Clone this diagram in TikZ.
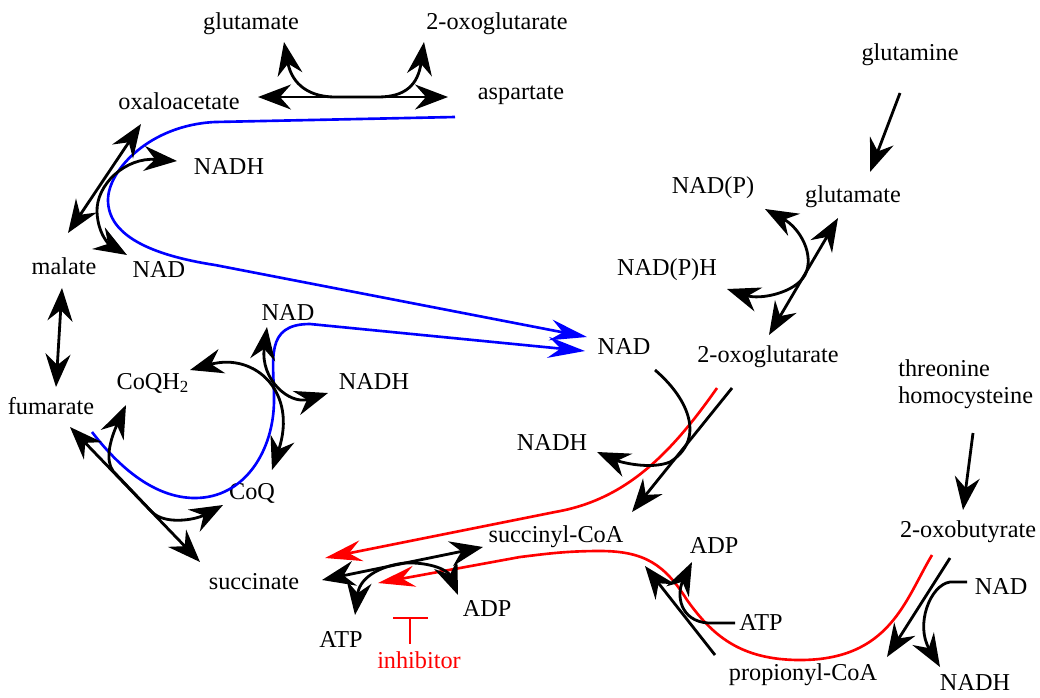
\documentclass[tikz,border=0pt]{standalone}
\usepackage{fontspec}
\setmainfont{Liberation Serif}
\usetikzlibrary{arrows.meta}
\tikzset{%
  myedge/.style={line width=1.6pt, >={Stealth[length=0.66cm, width=0.5cm, inset=0.22cm]}},
  myflux/.style={line width=1.5pt, ->, >={Stealth[length=0.74cm, width=0.42cm, inset=0.25cm]}},
  mynode/.style={inner sep=0pt, font=\fontsize{13.8}{16}\selectfont}
}

\begin{document}
\begin{tikzpicture}[x=0.02cm, y=-0.02cm]
  \useasboundingbox (0,0) rectangle (1040,697);
  % metabolites
  \node[mynode] (glu1) at (251,24) {glutamate};
  \node[mynode] (akg1) at (497,24) {2-oxoglutarate};
  \node[mynode] (oaa) at (179,101) {oxaloacetate};
  \node[mynode] (asp) at (521,95) {aspartate};
  \node[mynode] (nadh1) at (229,167) {NADH};
  \node[mynode] (mal) at (64,266) {malate};
  \node[mynode] (nad1) at (159,270) {NAD};
  \node[mynode] (nad2) at (288,313) {NAD};
  \node[mynode] (coqh) at (153,383) {CoQH\textsubscript{2}};
  \node[mynode] (nadh2) at (374,382) {NADH};
  \node[mynode] (fum) at (51,406) {fumarate};
  \node[mynode] (coq) at (252,493) {CoQ};
  \node[mynode] (suc) at (254,582) {succinate};
  \node[mynode] (atp1) at (341,639) {ATP};
  \node[mynode] (adp1) at (487,609) {ADP};
  \node[mynode, text=red] (inh) at (419,660) {inhibitor};
  \node[mynode] (gln) at (910,55) {glutamine};
  \node[mynode] (nadp) at (713,188) {NAD(P)};
  \node[mynode] (glu2) at (853,197) {glutamate};
  \node[mynode] (nadph) at (667,270) {NAD(P)H};
  \node[mynode] (nad3) at (624,347) {NAD};
  \node[mynode] (akg2) at (768,357) {2-oxoglutarate};
  \node[mynode, anchor=west] (thr) at (898,368) {threonine};
  \node[mynode, anchor=west] (hcy) at (898,398) {homocysteine};
  \node[mynode] (nadh3) at (552,443) {NADH};
  \node[mynode] (sucoa) at (556,537) {succinyl-CoA};
  \node[mynode] (adp2) at (714,546) {ADP};
  \node[mynode] (atp2) at (761,622) {ATP};
  \node[mynode] (prop) at (803,675) {propionyl-CoA};
  \node[mynode] (oxb) at (968,532) {2-oxobutyrate};
  \node[mynode] (nad4) at (1001,587) {NAD};
  \node[mynode] (nadh4) at (975,683) {NADH};
  % arrow ends
  \coordinate (t1) at (258,97);  \coordinate (t2) at (448,97);
  \coordinate (t3) at (284,42);  \coordinate (t4) at (424,42);
  \coordinate (m1) at (141,124); \coordinate (m2) at (68,233);
  \coordinate (m3) at (177,161); \coordinate (m4) at (127,255);
  \coordinate (f1) at (62,288);  \coordinate (f2) at (56,387);
  \coordinate (s1) at (70,427);  \coordinate (s2) at (200,562);
  \coordinate (s3) at (126,405); \coordinate (s4) at (223,505);
  \coordinate (c1) at (267,327); \coordinate (c2) at (328,393);
  \coordinate (c3) at (190,370); \coordinate (c4) at (272,470);
  \coordinate (g1) at (900,93);  \coordinate (g2) at (870,172);
  \coordinate (g3) at (838,218); \coordinate (g4) at (769,335);
  \coordinate (g5) at (765,209); \coordinate (g6) at (727,289);
  \coordinate (k1) at (732,388); \coordinate (k2) at (632,512);
  \coordinate (k3) at (655,370); \coordinate (k4) at (597,452);
  \coordinate (a1) at (322,580); \coordinate (a2) at (483,547);
  \coordinate (a3) at (355,615); \coordinate (a4) at (458,595);
  \coordinate (p1) at (715,655); \coordinate (p2) at (645,566);
  \coordinate (p3) at (735,623); \coordinate (p4) at (692,562);
  \coordinate (o1) at (950,558); \coordinate (o2) at (887,657);
  \coordinate (o3) at (967,582); \coordinate (o4) at (940,667);
  \coordinate (h1) at (973,433); \coordinate (h2) at (963,510);
  \coordinate (B1) at (455,117); \coordinate (B2) at (587,337);
  \coordinate (B3) at (92,432);  \coordinate (B4) at (585,351);
  \coordinate (R1) at (717,388); \coordinate (R2) at (325,558);
  \coordinate (R3) at (932,555); \coordinate (R4) at (378,583);
  \coordinate (i1) at (393,618); \coordinate (i2) at (428,618);
  \coordinate (i3) at (410,618); \coordinate (i4) at (410,644);
  % fluxes
  \draw[myflux, blue] (B1) -- (215,122) .. controls (150,125) and (108,170) .. (108,200)
    .. controls (108,235) and (150,255) .. (215,265) -- (B2);
  \draw[myflux, blue] (B3) .. controls (125,475) and (160,498) .. (195,498)
    .. controls (245,498) and (274,450) .. (274,400) .. controls (274,360) and (264,324) .. (310,324) -- (B4);
  \draw[myflux, red] (R1) .. controls (670,455) and (625,500) .. (555,512) -- (R2);
  \draw[myflux, red] (R3) .. controls (905,600) and (890,660) .. (800,660)
    .. controls (740,660) and (712,635) .. (687,600) .. controls (665,565) and (645,551) .. (600,551)
    .. controls (565,551) and (545,554) .. (520,557) -- (R4);
  % reactions
  \draw[myedge, <->] (t1) -- (t2);
  \draw[myedge, <->] (t3) .. controls (292,85) and (310,97) .. (335,97) -- (378,97) .. controls (405,97) and (418,85) .. (t4);
  \draw[myedge, <->] (m1) -- (m2);
  \draw[myedge, <->] (m3) .. controls (125,157) and (96,185) .. (97,212) .. controls (98,235) and (110,245) .. (m4);
  \draw[myedge, <->] (f1) -- (f2);
  \draw[myedge, <->] (s1) -- (s2);
  \draw[myedge, <->] (s3) .. controls (110,440) and (105,460) .. (113,471) -- (152,512) .. controls (165,525) and (195,520) .. (s4);
  \draw[myedge, <->] (c1) .. controls (260,380) and (290,405) .. (c2);
  \draw[myedge, <->] (c3) .. controls (255,352) and (298,392) .. (c4);
  \draw[myedge, ->] (g1) -- (g2);
  \draw[myedge, <->] (g3) -- (g4);
  \draw[myedge, <->] (g5) .. controls (800,228) and (815,255) .. (805,275) .. controls (795,293) and (760,300) .. (g6);
  \draw[myedge, ->] (k1) -- (k2);
  \draw[myedge, ->] (k3) .. controls (690,400) and (705,440) .. (670,462) .. controls (650,470) and (620,462) .. (k4);
  \draw[myedge, <->] (a1) -- (a2);
  \draw[myedge, <->] (a3) .. controls (360,575) and (385,565) .. (405,563) .. controls (430,562) and (448,570) .. (a4);
  \draw[myedge, ->] (p1) -- (p2);
  \draw[myedge, ->] (p3) -- (708,623) .. controls (680,621) and (676,595) .. (p4);
  \draw[myedge, ->] (o1) -- (o2);
  \draw[myedge, ->] (o3) -- (950,582) .. controls (930,585) and (915,625) .. (o4);
  \draw[myedge, ->] (h1) -- (h2);
  \draw[line width=1.6pt, red] (i1) -- (i2) (i3) -- (i4);
\end{tikzpicture}
\end{document}
